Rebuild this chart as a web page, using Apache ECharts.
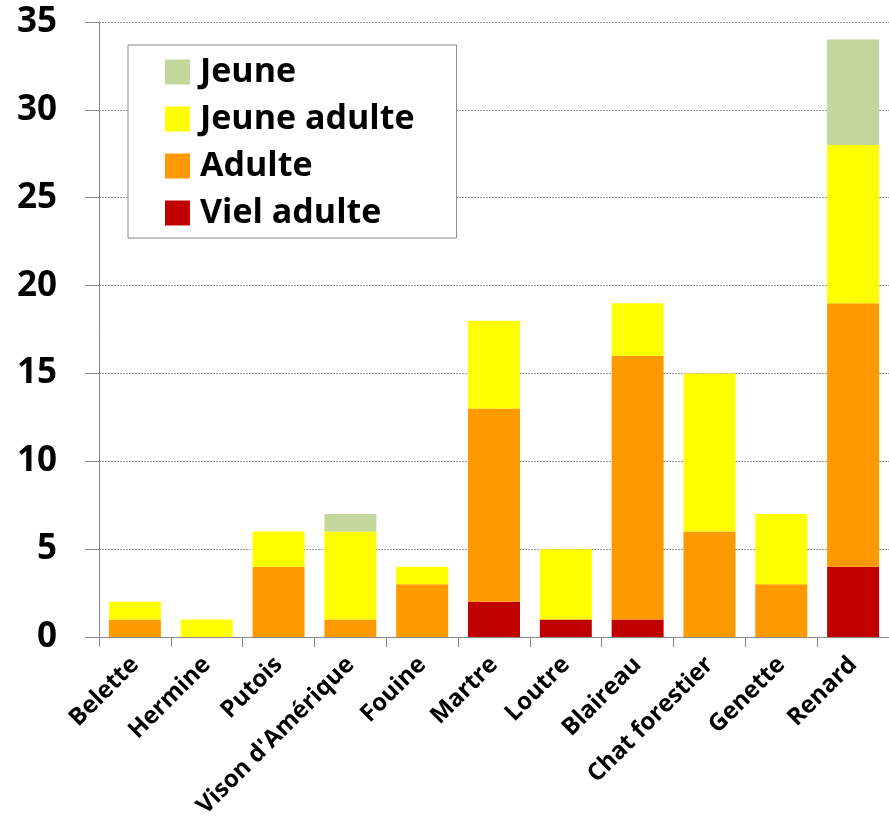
<!DOCTYPE html>
<html>
<head>
<meta charset="utf-8">
<script src="https://cdn.jsdelivr.net/npm/echarts@6/dist/echarts.min.js"></script>
<style>
html,body{margin:0;padding:0;background:#fff;}
#main{width:889px;height:829px;}
</style>
</head>
<body>
<div id="main"></div>
<script>
const categories = ["Belette","Hermine","Putois","Vison d'Amérique","Fouine","Martre","Loutre","Blaireau","Chat forestier","Genette","Renard"];
const vielAdulte  = [0,0,0,0,0,2,1,1,0,0,4];
const adulte      = [1,0,4,1,3,11,0,15,6,3,15];
const jeuneAdulte = [1,1,2,5,1,5,4,3,9,4,9];
const jeune       = [0,0,0,1,0,0,0,0,0,0,6];
const seriesNames = ["Viel adulte","Adulte","Jeune adulte","Jeune"];
const legendOrder = ["Jeune","Jeune adulte","Adulte","Viel adulte"];
const colors = ["#C00000","#FF9900","#FFFF00","#C3D69B"];
const yTicks = { min: 0, max: 35, interval: 5 };

const font = "'Open Sans', 'Noto Sans', sans-serif";
const chart = echarts.init(document.getElementById('main'), null, {renderer:'canvas'});
const dataSets = [vielAdulte, adulte, jeuneAdulte, jeune];
chart.setOption({
  animation: false,
  backgroundColor: '#fff',
  grid: { left: 99, right: 0, top: 22, bottom: 192, containLabel: false },
  legend: {
    data: legendOrder,
    orient: 'vertical',
    left: 128, top: 45,
    padding: [10, 42, 8, 37],
    itemGap: 13,
    itemWidth: 25, itemHeight: 25,
    icon: 'rect',
    borderColor: '#888', borderWidth: 1,
    backgroundColor: '#fff',
    textStyle: { fontFamily: font, fontWeight: 'bold', fontSize: 34, lineHeight: 25, color: '#000', padding:[0,0,0,5] }
  },
  xAxis: {
    type: 'category',
    data: categories,
    axisLine: { lineStyle: { color: '#888', width: 1 } },
    axisTick: { show: true, length: 10, lineStyle: { color: '#888' } },
    axisLabel: { rotate: 45, margin: 24, interval: 0, fontFamily: font, fontWeight: 'bold', fontSize: 24, color: '#000' }
  },
  yAxis: {
    type: 'value',
    min: yTicks.min, max: yTicks.max, interval: yTicks.interval,
    axisLine: { show: true, lineStyle: { color: '#888', width: 1 } },
    axisTick: { show: true, length: 14, lineStyle: { color: '#888' } },
    axisLabel: { margin: 42, fontFamily: font, fontWeight: 'bold', fontSize: 35, color: '#000' },
    splitLine: { show: true, lineStyle: { color: '#999', type: [2,1], width: 1 } }
  },
  series: seriesNames.map((n, i) => ({
    name: n,
    type: 'bar',
    stack: 'total',
    barWidth: 52,
    itemStyle: { color: colors[i] },
    data: dataSets[i]
  }))
});
</script>
</body>
</html>
